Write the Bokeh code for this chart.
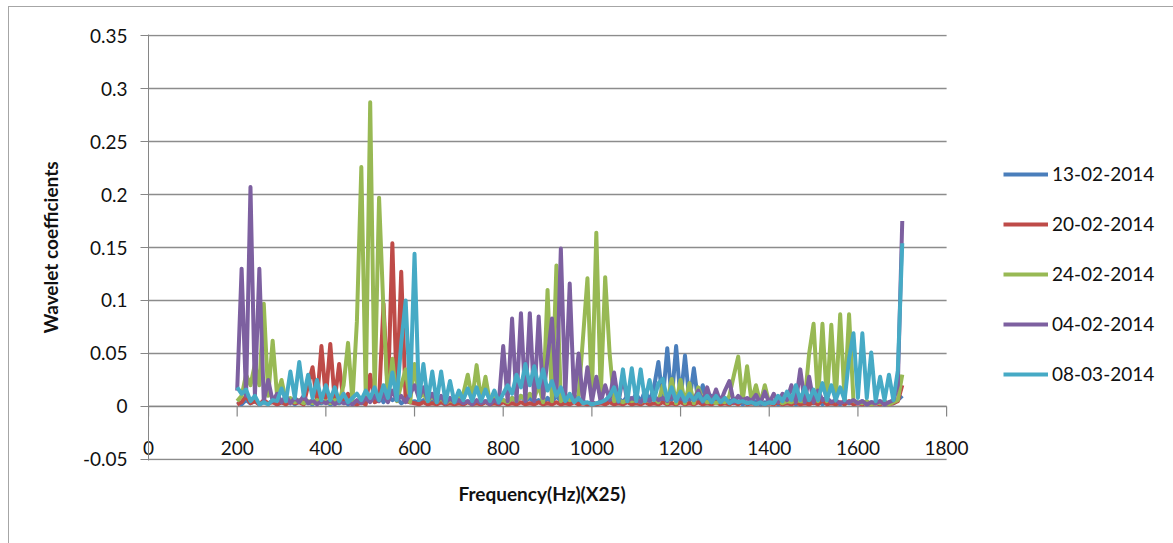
from bokeh.plotting import figure
from bokeh.models import Range1d, FixedTicker, CustomJSTickFormatter, Legend, LegendItem, Title
from bokeh.embed import file_html
from bokeh.resources import INLINE

# x positions: every 10 units from 200 to 1700
freq = list(range(200, 1701, 10))

xticks = [0, 200, 400, 600, 800, 1000, 1200, 1400, 1600, 1800]
yticks = [-0.05, 0, 0.05, 0.1, 0.15, 0.2, 0.25, 0.3, 0.35]

labels = ["13-02-2014", "20-02-2014", "24-02-2014", "04-02-2014", "08-03-2014"]
colors = ["#4A7EBB", "#BE4B48", "#98B954", "#7D60A0", "#46AAC5"]

s_13_02 = [
    0.004, 0.002, 0.006, 0.003, 0.005, 0.002, 0.004, 0.003, 0.005, 0.002,
    0.004, 0.003, 0.006, 0.002, 0.005, 0.003, 0.004, 0.002, 0.006, 0.003,
    0.005, 0.002, 0.004, 0.003, 0.006, 0.002, 0.005, 0.003, 0.008, 0.004,
    0.010, 0.005, 0.012, 0.004, 0.010, 0.006, 0.008, 0.003, 0.006, 0.004,
    0.005, 0.003, 0.006, 0.002, 0.005, 0.003, 0.004, 0.002, 0.005, 0.003,
    0.004, 0.002, 0.005, 0.003, 0.004, 0.002, 0.005, 0.003, 0.004, 0.002,
    0.006, 0.003, 0.008, 0.004, 0.010, 0.005, 0.008, 0.004, 0.006, 0.003,
    0.008, 0.004, 0.010, 0.005, 0.008, 0.004, 0.006, 0.003, 0.005, 0.002,
    0.004, 0.002, 0.005, 0.003, 0.006, 0.003, 0.008, 0.004, 0.010, 0.005,
    0.012, 0.004, 0.015, 0.005, 0.018, 0.042, 0.006, 0.055, 0.006, 0.057,
    0.006, 0.048, 0.005, 0.036, 0.004, 0.020, 0.003, 0.010, 0.004, 0.008,
    0.004, 0.006, 0.003, 0.005, 0.002, 0.004, 0.003, 0.005, 0.002, 0.004,
    0.003, 0.005, 0.002, 0.004, 0.003, 0.005, 0.002, 0.004, 0.003, 0.005,
    0.003, 0.006, 0.002, 0.005, 0.003, 0.004, 0.002, 0.005, 0.003, 0.004,
    0.003, 0.005, 0.002, 0.004, 0.003, 0.005, 0.002, 0.004, 0.003, 0.006,
    0.010,
]

s_20_02 = [
    0.002, 0.004, 0.010, 0.003, 0.005, 0.002, 0.006, 0.003, 0.004, 0.002,
    0.004, 0.002, 0.005, 0.003, 0.004, 0.002, 0.020, 0.037, 0.005, 0.057,
    0.008, 0.059, 0.006, 0.040, 0.004, 0.012, 0.003, 0.002, 0.004, 0.002,
    0.030, 0.004, 0.006, 0.097, 0.010, 0.154, 0.010, 0.127, 0.005, 0.004,
    0.003, 0.002, 0.004, 0.002, 0.003, 0.002, 0.004, 0.002, 0.003, 0.002,
    0.003, 0.002, 0.004, 0.002, 0.003, 0.002, 0.004, 0.002, 0.003, 0.002,
    0.004, 0.002, 0.003, 0.002, 0.004, 0.002, 0.003, 0.002, 0.004, 0.002,
    0.003, 0.002, 0.004, 0.002, 0.003, 0.002, 0.004, 0.002, 0.003, 0.002,
    0.004, 0.002, 0.003, 0.002, 0.004, 0.002, 0.003, 0.002, 0.004, 0.002,
    0.003, 0.002, 0.004, 0.002, 0.003, 0.002, 0.004, 0.002, 0.003, 0.002,
    0.004, 0.002, 0.003, 0.002, 0.004, 0.002, 0.003, 0.002, 0.004, 0.002,
    0.003, 0.002, 0.004, 0.002, 0.006, 0.002, 0.003, 0.002, 0.004, 0.002,
    0.003, 0.002, 0.004, 0.002, 0.003, 0.002, 0.004, 0.002, 0.003, 0.002,
    0.004, 0.002, 0.006, 0.002, 0.003, 0.002, 0.004, 0.002, 0.005, 0.002,
    0.003, 0.002, 0.004, 0.002, 0.003, 0.002, 0.004, 0.002, 0.003, 0.005,
    0.020,
]

s_24_02 = [
    0.005, 0.010, 0.030, 0.020, 0.040, 0.020, 0.097, 0.010, 0.062, 0.010,
    0.025, 0.005, 0.008, 0.004, 0.006, 0.003, 0.005, 0.003, 0.006, 0.004,
    0.005, 0.003, 0.006, 0.004, 0.020, 0.060, 0.005, 0.080, 0.226, 0.010,
    0.287, 0.010, 0.197, 0.090, 0.005, 0.045, 0.005, 0.020, 0.035, 0.004,
    0.040, 0.008, 0.012, 0.005, 0.010, 0.004, 0.008, 0.003, 0.006, 0.004,
    0.008, 0.012, 0.030, 0.006, 0.039, 0.006, 0.028, 0.004, 0.008, 0.005,
    0.006, 0.004, 0.008, 0.005, 0.010, 0.006, 0.012, 0.008, 0.020, 0.004,
    0.110, 0.005, 0.133, 0.005, 0.010, 0.006, 0.008, 0.010, 0.065, 0.121,
    0.010, 0.164, 0.010, 0.122, 0.050, 0.005, 0.006, 0.004, 0.006, 0.005,
    0.006, 0.004, 0.006, 0.005, 0.008, 0.004, 0.020, 0.003, 0.026, 0.003,
    0.025, 0.003, 0.022, 0.003, 0.018, 0.006, 0.004, 0.005, 0.003, 0.005,
    0.004, 0.010, 0.029, 0.047, 0.005, 0.038, 0.005, 0.020, 0.003, 0.020,
    0.003, 0.004, 0.006, 0.003, 0.005, 0.004, 0.006, 0.005, 0.005, 0.050,
    0.078, 0.005, 0.078, 0.005, 0.077, 0.005, 0.087, 0.005, 0.087, 0.005,
    0.004, 0.003, 0.005, 0.002, 0.004, 0.003, 0.005, 0.002, 0.004, 0.006,
    0.030,
]

s_04_02 = [
    0.015, 0.130, 0.010, 0.207, 0.010, 0.130, 0.005, 0.025, 0.005, 0.012,
    0.004, 0.010, 0.003, 0.008, 0.004, 0.010, 0.003, 0.006, 0.002, 0.005,
    0.003, 0.006, 0.002, 0.005, 0.003, 0.004, 0.002, 0.006, 0.003, 0.008,
    0.004, 0.010, 0.005, 0.012, 0.004, 0.015, 0.006, 0.010, 0.004, 0.012,
    0.020, 0.008, 0.018, 0.006, 0.012, 0.004, 0.010, 0.003, 0.008, 0.004,
    0.006, 0.003, 0.005, 0.002, 0.006, 0.003, 0.005, 0.002, 0.006, 0.003,
    0.057, 0.005, 0.083, 0.005, 0.088, 0.005, 0.088, 0.005, 0.085, 0.008,
    0.045, 0.083, 0.010, 0.149, 0.010, 0.116, 0.006, 0.050, 0.005, 0.037,
    0.004, 0.028, 0.004, 0.020, 0.006, 0.032, 0.004, 0.028, 0.005, 0.008,
    0.006, 0.004, 0.008, 0.005, 0.010, 0.006, 0.008, 0.005, 0.010, 0.006,
    0.008, 0.005, 0.010, 0.006, 0.015, 0.004, 0.018, 0.004, 0.016, 0.004,
    0.015, 0.024, 0.004, 0.010, 0.006, 0.008, 0.005, 0.011, 0.003, 0.014,
    0.003, 0.012, 0.004, 0.012, 0.006, 0.020, 0.004, 0.035, 0.004, 0.028,
    0.004, 0.015, 0.006, 0.008, 0.004, 0.006, 0.003, 0.005, 0.004, 0.006,
    0.003, 0.005, 0.002, 0.004, 0.003, 0.005, 0.002, 0.004, 0.006, 0.020,
    0.175,
]

s_08_03 = [
    0.018, 0.012, 0.016, 0.005, 0.010, 0.002, 0.004, 0.002, 0.006, 0.005,
    0.017, 0.005, 0.033, 0.008, 0.042, 0.010, 0.030, 0.008, 0.025, 0.006,
    0.020, 0.006, 0.018, 0.005, 0.012, 0.004, 0.008, 0.012, 0.006, 0.015,
    0.008, 0.018, 0.006, 0.020, 0.008, 0.032, 0.006, 0.060, 0.100, 0.010,
    0.144, 0.006, 0.040, 0.005, 0.033, 0.004, 0.033, 0.004, 0.024, 0.004,
    0.015, 0.006, 0.017, 0.005, 0.018, 0.005, 0.016, 0.005, 0.015, 0.004,
    0.012, 0.020, 0.012, 0.030, 0.018, 0.040, 0.020, 0.038, 0.018, 0.035,
    0.015, 0.024, 0.010, 0.018, 0.005, 0.012, 0.004, 0.008, 0.003, 0.004,
    0.002, 0.003, 0.004, 0.006, 0.010, 0.018, 0.005, 0.035, 0.005, 0.036,
    0.005, 0.035, 0.005, 0.025, 0.006, 0.022, 0.026, 0.006, 0.018, 0.005,
    0.014, 0.005, 0.012, 0.006, 0.012, 0.005, 0.010, 0.004, 0.010, 0.004,
    0.008, 0.003, 0.006, 0.004, 0.005, 0.003, 0.004, 0.002, 0.004, 0.002,
    0.004, 0.003, 0.010, 0.005, 0.014, 0.006, 0.020, 0.006, 0.018, 0.006,
    0.016, 0.006, 0.022, 0.006, 0.020, 0.006, 0.018, 0.006, 0.045, 0.069,
    0.008, 0.069, 0.008, 0.051, 0.005, 0.028, 0.006, 0.030, 0.006, 0.034,
    0.154,
]

series = [s_13_02, s_20_02, s_24_02, s_04_02, s_08_03]
for s in series:
    assert len(s) == len(freq), len(s)

FONT = "Lato"
GRID = "#8c8c8c"
AXIS = "#868686"
TXT = "#111111"

# frame runs to the right edge so the legend can sit inside it; 0..1800 maps to x 148..946
p = figure(width=1165, height=537, output_backend="svg", toolbar_location=None,
           x_range=Range1d(0, 2314), y_range=Range1d(-0.051, 0.351),
           min_border_left=139, min_border_right=0, min_border_top=27, min_border_bottom=84)
p.outline_line_color = None
p.background_fill_color = "white"
p.border_fill_color = "white"

# y axis
ya = p.yaxis[0]
ya.ticker = FixedTicker(ticks=yticks)
ya.formatter = CustomJSTickFormatter(code=r"""
var s = tick.toFixed(2);
if (s.indexOf('.') >= 0) { s = s.replace(/0+$/, '').replace(/\.$/, ''); }
return s;
""")
ya.axis_line_color = AXIS
ya.major_tick_line_color = AXIS
ya.major_tick_out = 8
ya.major_tick_in = 0
ya.minor_tick_line_color = None
ya.major_label_text_font = FONT
ya.major_label_text_font_size = "19px"
ya.major_label_text_color = TXT
ya.major_label_standoff = 13
ya.axis_label = "Wavelet coefficients"
ya.axis_label_text_font = FONT
ya.axis_label_text_font_style = "bold"
ya.axis_label_text_font_size = "19px"
ya.axis_label_text_color = TXT
ya.axis_label_standoff = 18

# x axis: labels only, sitting just above the bottom gridline
xa = p.xaxis[0]
xa.ticker = FixedTicker(ticks=xticks)
xa.axis_line_color = None
xa.major_tick_line_color = None
xa.minor_tick_line_color = None
xa.major_tick_out = 0
xa.major_tick_in = 0
xa.major_label_standoff = -20
xa.major_label_text_font = FONT
xa.major_label_text_font_size = "19px"
xa.major_label_text_color = TXT

# x-axis title, centred under the 0..1800 span
xtitle = Title(text="Frequency(Hz)(X25)", align="left", offset=310, standoff=38,
               text_font=FONT, text_font_size="19px", text_font_style="bold", text_color=TXT)
p.add_layout(xtitle, "below")

p.xgrid.grid_line_color = None
p.ygrid.grid_line_color = None

# horizontal gridlines spanning 0..1800 only
xmin, xmax = xticks[0], xticks[-1]
p.segment(x0=[xmin] * len(yticks), y0=yticks, x1=[xmax] * len(yticks), y1=yticks,
          line_color=GRID, line_width=1.5)
# axis line at zero with downward tick marks
p.segment(x0=[xmin], y0=[0], x1=[xmax], y1=[0], line_color=AXIS, line_width=1.2)
p.segment(x0=xticks, y0=[0] * len(xticks), x1=xticks, y1=[-0.0095] * len(xticks),
          line_color=AXIS, line_width=1.2)

renderers = []
for s, c in zip(series, colors):
    r = p.line(freq, s, line_color=c, line_width=4, line_join="round")
    renderers.append(r)

legend = Legend(items=[LegendItem(label=l, renderers=[r]) for l, r in zip(labels, renderers)],
                location=(855, 75), orientation="vertical")
legend.border_line_color = None
legend.background_fill_alpha = 0
legend.margin = 0
legend.padding = 0
legend.glyph_width = 45
legend.glyph_height = 20
legend.label_height = 20
legend.spacing = 27
legend.label_standoff = 4
legend.label_text_font = FONT
legend.label_text_font_size = "19px"
legend.label_text_color = TXT
p.add_layout(legend)

p.styles = {"margin-left": "8px", "margin-top": "6px",
            "border-left": "1px solid #a6a6a6", "border-top": "1px solid #a6a6a6"}

open("out.html", "w").write(file_html(p, INLINE))
